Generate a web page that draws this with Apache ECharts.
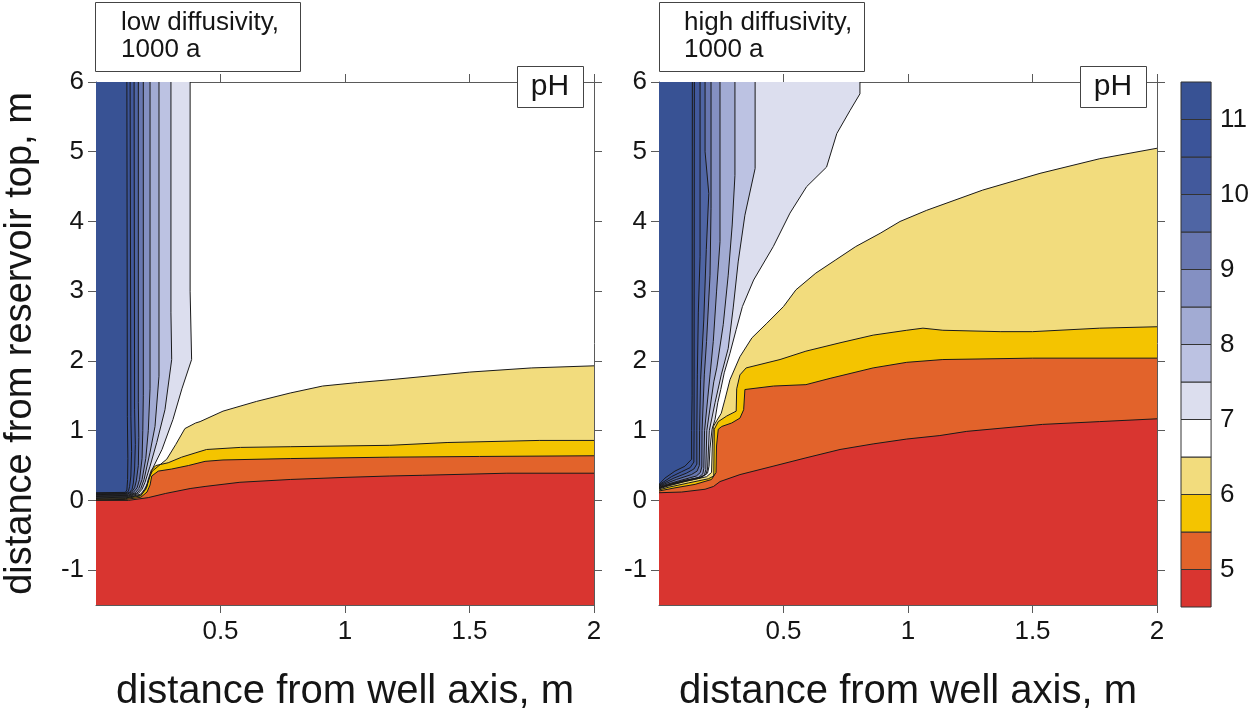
<!DOCTYPE html>
<html>
<head>
<meta charset="utf-8">
<script src="https://cdn.jsdelivr.net/npm/echarts@6/dist/echarts.min.js"></script>
<style>
html,body{margin:0;padding:0;background:#fff;}
#chart{width:1252px;height:717px;}
</style>
</head>
<body>
<div id="chart"></div>
<script>
// ---------- tick labels / levels ----------
const xTicks = [0.5, 1, 1.5, 2];
const yTicks = [-1, 0, 1, 2, 3, 4, 5, 6];
const cbTicks = [5, 6, 7, 8, 9, 10, 11];
const levels = [5, 5.5, 6, 6.5, 7, 7.5, 8, 8.5, 9, 9.5, 10, 10.5, 11];
const bandColors = ['#d93530', '#e2632b', '#f4c400', '#f2dc7d', '#ffffff', '#dcdeee', '#bcc2e2',
  '#a2abd3', '#8490c2', '#6877b0', '#4f65a4', '#42599c', '#3b5499', '#385294'];
const panelTitles = ['low diffusivity,\n1000 a', 'high diffusivity,\n1000 a'];

// ---------- left panel (low diffusivity) contour lines [x, y] ----------
const leftPH5 = [[0,0],[0.13,0],[0.21,0.04],[0.28,0.1],[0.378,0.17],[0.438,0.2],[0.578,0.26],[0.78,0.3],[1.0,0.33],[1.18,0.35],[1.31,0.36],[1.65,0.39],[2,0.39]];
const leftPH5_5 = [[0,0.009],[0.12,0.014],[0.18,0.045],[0.205,0.12],[0.217,0.22],[0.224,0.35],[0.25,0.42],[0.304,0.45],[0.371,0.5],[0.438,0.56],[0.51,0.58],[0.78,0.6],[1.18,0.62],[1.54,0.63],[2,0.64]];
const leftPH6 = [[0,0.019],[0.12,0.026],[0.18,0.065],[0.205,0.2],[0.215,0.36],[0.222,0.43],[0.24,0.5],[0.29,0.54],[0.344,0.62],[0.398,0.68],[0.444,0.73],[0.58,0.76],[0.78,0.77],[1.18,0.79],[1.41,0.83],[1.78,0.86],[2,0.86]];
const leftPH6_5 = [[0,0.028],[0.12,0.036],[0.18,0.075],[0.2,0.16],[0.21,0.3],[0.226,0.42],[0.26,0.52],[0.284,0.59],[0.32,0.8],[0.357,1.03],[0.4,1.11],[0.418,1.13],[0.51,1.28],[0.645,1.42],[0.78,1.54],[0.91,1.64],[1.05,1.69],[1.18,1.73],[1.5,1.84],[1.75,1.9],[2,1.93]];
const leftPH7 = [[0.378,6],[0.378,3],[0.384,2.02],[0.345,1.6],[0.309,1.16],[0.265,0.73],[0.225,0.44],[0.209,0.26],[0.195,0.16],[0.18,0.09],[0.13,0.045],[0,0.038]];
const leftPH7_5 = [[0.301,6],[0.301,2.69],[0.304,2.02],[0.277,1.3],[0.244,0.83],[0.217,0.49],[0.197,0.26],[0.185,0.16],[0.17,0.098],[0.13,0.054],[0,0.047]];
const leftPH8 = [[0.253,6],[0.253,1.78],[0.237,1.06],[0.217,0.69],[0.193,0.3],[0.18,0.17],[0.165,0.105],[0.13,0.063],[0,0.056]];
const leftPH8_5 = [[0.217,6],[0.217,1.6],[0.21,1.0],[0.2,0.6],[0.185,0.3],[0.172,0.17],[0.158,0.11],[0.13,0.072],[0,0.065]];
const leftPH9 = [[0.19,6],[0.19,1.5],[0.188,1.0],[0.185,0.6],[0.175,0.3],[0.165,0.18],[0.15,0.115],[0.13,0.081],[0,0.074]];
const leftPH9_5 = [[0.17,6],[0.17,1.4],[0.172,0.9],[0.17,0.5],[0.162,0.28],[0.155,0.18],[0.143,0.118],[0.125,0.09],[0,0.083]];
const leftPH10 = [[0.153,6],[0.155,1.3],[0.158,0.8],[0.155,0.45],[0.15,0.25],[0.145,0.16],[0.135,0.115],[0.12,0.099],[0,0.092]];
const leftPH10_5 = [[0.137,6],[0.14,1.2],[0.143,0.7],[0.14,0.35],[0.135,0.2],[0.13,0.13],[0.12,0.107],[0,0.101]];
const leftPH11 = [[0.124,6],[0.126,1.2],[0.128,0.6],[0.127,0.3],[0.124,0.15],[0.118,0.115],[0,0.11]];

// ---------- right panel (high diffusivity) contour lines [x, y] ----------
const rightPH5 = [[0,0.11],[0.091,0.12],[0.185,0.16],[0.219,0.2],[0.245,0.27],[0.325,0.37],[0.458,0.49],[0.59,0.61],[0.727,0.73],[0.86,0.81],[0.995,0.88],[1.128,0.93],[1.236,0.99],[1.54,1.09],[1.77,1.13],[2,1.17]];
const rightPH5_5 = [[0,0.135],[0.064,0.18],[0.145,0.23],[0.211,0.3],[0.229,0.4],[0.231,0.78],[0.238,1.02],[0.252,1.06],[0.292,1.11],[0.325,1.18],[0.34,1.3],[0.345,1.59],[0.46,1.64],[0.59,1.66],[0.687,1.75],[0.86,1.9],[0.995,1.98],[1.14,2.02],[1.5,2.04],[2,2.04]];
const rightPH6 = [[0,0.15],[0.04,0.19],[0.118,0.25],[0.198,0.31],[0.22,0.35],[0.222,1.02],[0.238,1.13],[0.272,1.21],[0.31,1.28],[0.312,1.6],[0.325,1.8],[0.35,1.9],[0.486,2.02],[0.59,2.14],[0.727,2.26],[0.86,2.37],[0.995,2.44],[1.06,2.47],[1.14,2.44],[1.37,2.42],[1.5,2.42],[1.77,2.47],[2,2.49]];
const rightPH6_5 = [[0,0.165],[0.04,0.21],[0.104,0.27],[0.191,0.34],[0.211,0.4],[0.214,0.78],[0.218,1.06],[0.233,1.15],[0.25,1.25],[0.265,1.45],[0.285,1.73],[0.325,2.06],[0.373,2.33],[0.433,2.54],[0.5,2.78],[0.55,3.02],[0.63,3.26],[0.71,3.45],[0.79,3.64],[0.888,3.83],[0.968,4.0],[1.075,4.16],[1.3,4.45],[1.53,4.69],[1.77,4.9],[2,5.05]];
const rightPH7 = [[0.807,6],[0.807,5.83],[0.767,5.59],[0.714,5.26],[0.673,4.78],[0.593,4.5],[0.526,4.12],[0.459,3.64],[0.38,3.16],[0.335,2.78],[0.31,2.45],[0.285,2.11],[0.262,1.83],[0.248,1.59],[0.236,1.4],[0.225,1.16],[0.213,1.02],[0.205,0.75],[0.201,0.49],[0.195,0.39],[0.17,0.33],[0.11,0.29],[0.05,0.235],[0,0.172]];
const rightPH7_5 = [[0.386,6],[0.386,4.76],[0.345,4.09],[0.318,3.42],[0.298,2.76],[0.278,2.18],[0.25,1.8],[0.225,1.4],[0.202,1.0],[0.195,0.45],[0.188,0.37],[0.16,0.325],[0.1,0.285],[0.05,0.24],[0,0.178]];
const rightPH8 = [[0.305,6],[0.305,4.66],[0.294,3.95],[0.278,3.23],[0.258,2.52],[0.232,1.9],[0.22,1.7],[0.192,1.0],[0.188,0.44],[0.183,0.37],[0.165,0.32],[0.1,0.27],[0,0.184]];
const rightPH8_5 = [[0.245,6],[0.245,3.71],[0.231,2.99],[0.218,2.28],[0.205,1.8],[0.183,1.0],[0.18,0.46],[0.176,0.38],[0.16,0.33],[0.09,0.265],[0,0.19]];
const rightPH9 = [[0.209,6],[0.209,4.19],[0.205,3.23],[0.191,2.28],[0.182,1.8],[0.173,1.0],[0.172,0.48],[0.166,0.4],[0.15,0.35],[0.08,0.28],[0,0.198]];
const rightPH9_5 = [[0.185,6],[0.185,5.0],[0.2,4.4],[0.19,3.6],[0.18,2.6],[0.167,1.73],[0.163,1.0],[0.162,0.5],[0.153,0.42],[0.13,0.37],[0.07,0.3],[0,0.206]];
const rightPH10 = [[0.165,6],[0.165,3.5],[0.158,2.7],[0.154,1.8],[0.152,1.0],[0.152,0.52],[0.14,0.45],[0.11,0.39],[0.06,0.32],[0,0.214]];
const rightPH10_5 = [[0.142,6],[0.141,1.73],[0.141,1.0],[0.14,0.55],[0.125,0.47],[0.09,0.41],[0.05,0.34],[0,0.222]];
const rightPH11 = [[0.134,6],[0.133,1.5],[0.131,1.0],[0.131,0.59],[0.104,0.49],[0.064,0.42],[0.024,0.32],[0,0.23]];

// ---------- build layers ----------
const X_MIN = 0, X_MAX = 2, Y_MIN = -1.5, Y_MAX = 6;
function buildLayers(lines) {
  const layers = [];
  for (let j = 3; j >= 0; j--) {
    layers.push({ poly: lines[j].concat([[X_MAX, Y_MIN], [X_MIN, Y_MIN]]), line: lines[j], color: bandColors[j] });
  }
  for (let j = 4; j < levels.length; j++) {
    layers.push({ poly: [[X_MIN, Y_MAX]].concat(lines[j]), line: lines[j], color: bandColors[j + 1] });
  }
  return layers;
}
const leftLayers = buildLayers([leftPH5, leftPH5_5, leftPH6, leftPH6_5, leftPH7, leftPH7_5, leftPH8, leftPH8_5, leftPH9, leftPH9_5, leftPH10, leftPH10_5, leftPH11]);
const rightLayers = buildLayers([rightPH5, rightPH5_5, rightPH6, rightPH6_5, rightPH7, rightPH7_5, rightPH8, rightPH8_5, rightPH9, rightPH9_5, rightPH10, rightPH10_5, rightPH11]);

const FONT = "'Liberation Sans', Arial, sans-serif";
const frameColor = '#5a5a5a';
const textColor = '#151515';
const lineColor = '#1a1a1a';

function fillSeries(layers, ai) {
  return {
    type: 'custom', xAxisIndex: ai, yAxisIndex: ai, clip: true, z: 2, silent: true,
    data: layers.map((l, i) => [1, 1, i]),
    renderItem: function (params, api) {
      const L = layers[api.value(2)];
      return { type: 'polygon', shape: { points: L.poly.map(p => api.coord(p)) }, style: { fill: L.color } };
    }
  };
}
function lineSeries(layers, ai) {
  return {
    type: 'custom', xAxisIndex: ai, yAxisIndex: ai, clip: true, z: 3, silent: true,
    data: layers.map((l, i) => [1, 1, i]),
    renderItem: function (params, api) {
      const L = layers[api.value(2)];
      return { type: 'polyline', shape: { points: L.line.map(p => api.coord(p)) }, style: { stroke: lineColor, lineWidth: 1, fill: null } };
    }
  };
}

function xAxisBottom(g) {
  return {
    type: 'value', gridIndex: g, position: 'bottom', min: X_MIN, max: X_MAX,
    axisLine: { show: true, onZero: false, lineStyle: { color: frameColor, width: 1 } },
    axisTick: { show: true, inside: false, length: 8, customValues: xTicks, lineStyle: { color: frameColor } },
    axisLabel: { show: true, customValues: xTicks, fontSize: 26, color: textColor, fontFamily: FONT, margin: 14 },
    splitLine: { show: false },
    name: 'distance from well axis, m', nameLocation: 'middle', nameGap: 67,
    nameTextStyle: { fontSize: 40, color: textColor, fontFamily: FONT }
  };
}
function xAxisTop(g) {
  return {
    type: 'value', gridIndex: g, position: 'top', min: X_MIN, max: X_MAX,
    axisLine: { show: true, onZero: false, lineStyle: { color: frameColor, width: 1 } },
    axisTick: { show: true, inside: false, length: 8, customValues: xTicks, lineStyle: { color: frameColor } },
    axisLabel: { show: false }, splitLine: { show: false }
  };
}
function yAxisLeft(g, withName) {
  const a = {
    type: 'value', gridIndex: g, position: 'left', min: Y_MIN, max: Y_MAX,
    axisLine: { show: true, onZero: false, lineStyle: { color: frameColor, width: 1 } },
    axisTick: { show: true, inside: false, length: 8, customValues: yTicks, lineStyle: { color: frameColor } },
    axisLabel: { show: true, customValues: yTicks, fontSize: 26, color: textColor, fontFamily: FONT, margin: 12 },
    splitLine: { show: false }
  };
  if (withName) {
    a.name = 'distance from reservoir top, m';
    a.nameLocation = 'middle';
    a.nameGap = 56;
    a.nameTextStyle = { fontSize: 38, color: textColor, fontFamily: FONT };
  }
  return a;
}
function yAxisRight(g) {
  return {
    type: 'value', gridIndex: g, position: 'right', min: Y_MIN, max: Y_MAX,
    axisLine: { show: true, onZero: false, lineStyle: { color: frameColor, width: 1 } },
    axisTick: { show: true, inside: false, length: 8, customValues: yTicks, lineStyle: { color: frameColor } },
    axisLabel: { show: false }, splitLine: { show: false }
  };
}

// colour bar bands
const cbLows = [4.5, 5, 5.5, 6, 6.5, 7, 7.5, 8, 8.5, 9, 9.5, 10, 10.5, 11];
const cbHighs = [5, 5.5, 6, 6.5, 7, 7.5, 8, 8.5, 9, 9.5, 10, 10.5, 11, 11.5];

const option = {
  backgroundColor: '#ffffff',
  animation: false,
  grid: [
    { left: 96, top: 82, width: 498, height: 524 },
    { left: 659, top: 82, width: 498, height: 524 },
    { left: 1181, top: 82, width: 35, height: 525 }
  ],
  xAxis: [
    xAxisBottom(0), xAxisBottom(1), xAxisTop(0), xAxisTop(1),
    { type: 'value', gridIndex: 2, min: 0, max: 1, show: false }
  ],
  yAxis: [
    yAxisLeft(0, true), yAxisLeft(1, false), yAxisRight(0), yAxisRight(1),
    {
      type: 'value', gridIndex: 2, position: 'right', min: 4.5, max: 11.5,
      axisLine: { show: false }, axisTick: { show: false }, splitLine: { show: false },
      axisLabel: { show: true, customValues: cbTicks, fontSize: 26, color: textColor, fontFamily: FONT, margin: 9 }
    }
  ],
  series: [
    fillSeries(leftLayers, 0), lineSeries(leftLayers, 0),
    fillSeries(rightLayers, 1), lineSeries(rightLayers, 1),
    {
      type: 'custom', xAxisIndex: 4, yAxisIndex: 4, silent: true,
      data: cbLows.map((v, i) => [0, v, i]),
      renderItem: function (params, api) {
        const i = api.value(2);
        const p0 = api.coord([0, cbLows[i]]);
        const p1 = api.coord([1, cbHighs[i]]);
        return { type: 'rect', shape: { x: p0[0], y: p1[1], width: p1[0] - p0[0], height: p0[1] - p1[1] },
          style: { fill: bandColors[i], stroke: '#333', lineWidth: 1 } };
      }
    }
  ],
  graphic: [
    { type: 'rect', z: 100, shape: { x: 95.5, y: 2.5, width: 205, height: 69 }, style: { fill: '#fff', stroke: '#444', lineWidth: 1 } },
    { type: 'text', z: 101, x: 121, y: 9, style: { text: panelTitles[0], font: "26px 'Liberation Sans', Arial, sans-serif", fill: textColor, lineHeight: 27 } },
    { type: 'rect', z: 100, shape: { x: 659.5, y: 2.5, width: 205, height: 69 }, style: { fill: '#fff', stroke: '#444', lineWidth: 1 } },
    { type: 'text', z: 101, x: 684, y: 9, style: { text: panelTitles[1], font: "26px 'Liberation Sans', Arial, sans-serif", fill: textColor, lineHeight: 27 } },
    { type: 'rect', z: 100, shape: { x: 517.5, y: 66.5, width: 66, height: 41 }, style: { fill: '#fff', stroke: '#444', lineWidth: 1 } },
    { type: 'text', z: 101, x: 550, y: 87, style: { text: 'pH', font: "30px 'Liberation Sans', Arial, sans-serif", fill: textColor, align: 'center', verticalAlign: 'middle' } },
    { type: 'rect', z: 100, shape: { x: 1080.5, y: 66.5, width: 66, height: 41 }, style: { fill: '#fff', stroke: '#444', lineWidth: 1 } },
    { type: 'text', z: 101, x: 1113, y: 87, style: { text: 'pH', font: "30px 'Liberation Sans', Arial, sans-serif", fill: textColor, align: 'center', verticalAlign: 'middle' } }
  ]
};

const chart = echarts.init(document.getElementById('chart'), null, { renderer: 'canvas' });
chart.setOption(option);
</script>
</body>
</html>
